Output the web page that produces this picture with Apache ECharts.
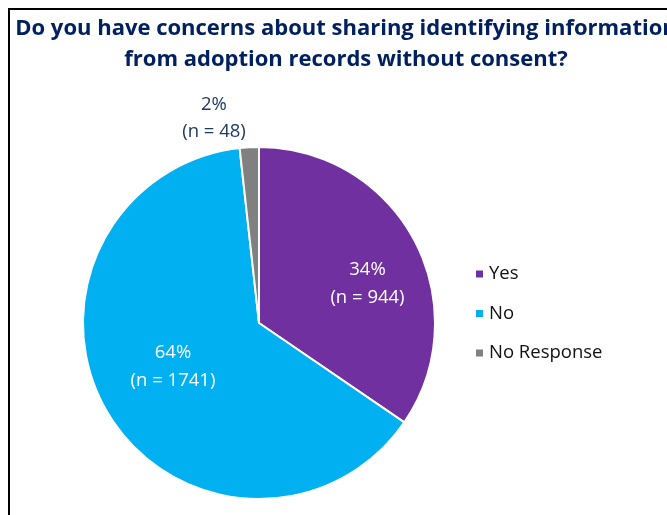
<!DOCTYPE html>
<html>
<head>
<meta charset="utf-8">
<script src="https://cdn.jsdelivr.net/npm/echarts@6/dist/echarts.min.js"></script>
<style>
  html, body { margin: 0; padding: 0; background: #fff; }
  #chart { width: 667px; height: 515px; }
</style>
</head>
<body>
<div id="chart"></div>
<script>
// Survey responses
const categories = ['Yes', 'No', 'No Response'];
const counts = [944, 1741, 48];
const percentLabels = ['34%', '64%', '2%'];

const titleLines = [
  'Do you have concerns about sharing identifying information',
  'from adoption records without consent?'
];

const colors = ['#7030A0', '#00B0F0', '#808080'];
const labelColors = ['#ffffff', '#ffffff', '#1F3864'];
const labelOffsets = [[28, 3], [-8, -3], [-40, -114]];

const FONT = '"Open Sans", Lato, sans-serif';

const chart = echarts.init(document.getElementById('chart'), null, { renderer: 'canvas' });

const pieData = categories.map((name, i) => ({
  name: name,
  value: counts[i],
  itemStyle: { color: colors[i] },
  label: {
    color: labelColors[i],
    offset: labelOffsets[i]
  }
}));

chart.setOption({
  animation: false,
  backgroundColor: '#ffffff',
  graphic: [
    {
      type: 'rect',
      shape: { x: 9, y: 9, width: 700, height: 560 },
      style: { fill: 'none', stroke: '#000000', lineWidth: 2 },
      z: 0
    },
    {
      type: 'text',
      x: 346, y: 29,
      style: {
        text: titleLines[0],
        fill: '#002060',
        font: 'bold 22px ' + FONT,
        align: 'center',
        verticalAlign: 'middle'
      }
    },
    {
      type: 'text',
      x: 346, y: 60,
      style: {
        text: titleLines[1],
        fill: '#002060',
        font: 'bold 22px ' + FONT,
        align: 'center',
        verticalAlign: 'middle'
      }
    }
  ],
  legend: {
    orient: 'vertical',
    left: 474,
    top: 264,
    padding: 0,
    icon: 'rect',
    itemWidth: 9,
    itemHeight: 9,
    itemGap: 19.5,
    textStyle: { fontFamily: FONT, fontSize: 18.5, color: '#111111', lineHeight: 20 },
    data: categories
  },
  series: [{
    type: 'pie',
    center: [259, 323],
    radius: [0, 176],
    startAngle: 90,
    clockwise: true,
    avoidLabelOverlap: false,
    itemStyle: { borderColor: '#ffffff', borderWidth: 2 },
    label: {
      show: true,
      position: 'inside',
      fontFamily: FONT,
      fontSize: 18.5,
      lineHeight: 27.5,
      formatter: p => percentLabels[p.dataIndex] + '\n(n = ' + counts[p.dataIndex] + ')'
    },
    labelLine: { show: false },
    emphasis: { disabled: true },
    data: pieData
  }]
});
</script>
</body>
</html>
